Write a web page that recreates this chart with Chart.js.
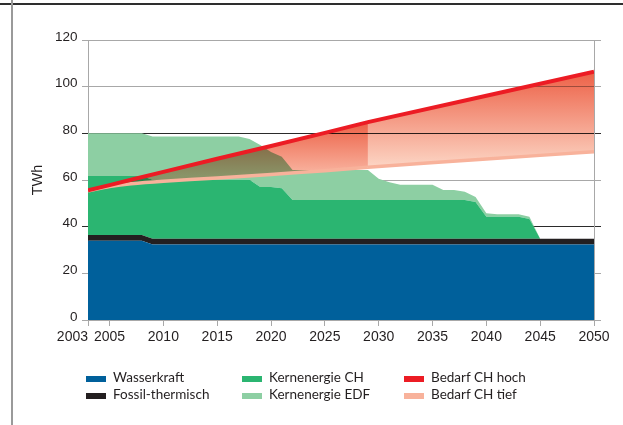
<!DOCTYPE html>
<html>
<head>
<meta charset="utf-8">
<script src="https://cdn.jsdelivr.net/npm/chart.js@4.4.0/dist/chart.umd.min.js"></script>
<style>
  html, body { margin: 0; padding: 0; background: #fff; }
  #wrap { position: relative; width: 623px; height: 425px; overflow: hidden; }
  #topRule { position: absolute; left: 0; top: 3px; width: 623px; height: 2px; background: #2e2e2e; }
  #leftRule { position: absolute; left: 11px; top: 0; width: 2px; height: 425px; background: #9a9a9a; }
  canvas { position: absolute; left: 0; top: 0; }
  .lg-text { position: absolute; font: 13.5px Lato, sans-serif; line-height: 16px; color: #231f20; white-space: nowrap; }
  .lg-box { position: absolute; width: 20px; height: 6px; }
</style>
</head>
<body>
<div id="wrap">
  <canvas id="myChart" width="623" height="425"></canvas>
  <div id="topRule"></div>
  <div id="leftRule"></div>
  <div id="legend"></div>
</div>
<script>
// Stromangebot und -nachfrage Schweiz (TWh)

const years = [2003, 2004, 2005, 2006, 2007, 2008, 2009, 2010, 2011, 2012, 2013, 2014,
    2015, 2016, 2017, 2018, 2019, 2020, 2021, 2022, 2023, 2024, 2025, 2026,
    2027, 2028, 2029, 2030, 2031, 2032, 2033, 2034, 2035, 2036, 2037, 2038,
    2039, 2040, 2041, 2042, 2043, 2044, 2045, 2046, 2047, 2048, 2049, 2050];

const wasserkraft = [34.0, 34.0, 34.0, 34.0, 34.0, 34.0, 32.4, 32.4, 32.4, 32.4, 32.4, 32.4,
    32.4, 32.4, 32.4, 32.4, 32.4, 32.4, 32.4, 32.4, 32.4, 32.4, 32.4, 32.4,
    32.4, 32.4, 32.4, 32.4, 32.4, 32.4, 32.4, 32.4, 32.4, 32.4, 32.4, 32.4,
    32.4, 32.4, 32.4, 32.4, 32.4, 32.4, 32.4, 32.4, 32.4, 32.4, 32.4, 32.4];

const fossil = [2.4, 2.4, 2.4, 2.4, 2.4, 2.4, 2.4, 2.4, 2.4, 2.4, 2.4, 2.4,
    2.4, 2.4, 2.4, 2.4, 2.4, 2.4, 2.4, 2.4, 2.4, 2.4, 2.4, 2.4,
    2.4, 2.4, 2.4, 2.4, 2.4, 2.4, 2.4, 2.4, 2.4, 2.4, 2.4, 2.4,
    2.4, 2.4, 2.4, 2.4, 2.4, 2.4, 2.4, 2.4, 2.4, 2.4, 2.4, 2.4];

const kernCH = [25.3, 25.3, 25.3, 25.3, 25.3, 25.3, 25.3, 25.3, 25.3, 25.3, 25.3, 25.3,
    25.3, 25.3, 25.3, 25.3, 22.2, 22.2, 21.7, 16.6, 16.6, 16.6, 16.6, 16.6,
    16.6, 16.6, 16.6, 16.6, 16.6, 16.6, 16.6, 16.6, 16.6, 16.6, 16.6, 16.6,
    15.8, 9.5, 9.5, 9.5, 9.5, 8.5, 0, 0, 0, 0, 0, 0];

const kernEDF = [18.3, 18.3, 18.3, 18.3, 18.3, 18.3, 18.5, 18.5, 18.5, 18.5, 18.5, 18.5,
    18.5, 18.5, 18.5, 17.5, 18.0, 15.0, 13.5, 12.9, 12.9, 12.9, 12.9, 12.9,
    12.9, 12.9, 12.9, 9.1, 7.6, 6.6, 6.6, 6.6, 6.6, 4.3, 4.3, 3.6,
    2.1, 1.4, 1.0, 1.0, 1.0, 1.0, 0, 0, 0, 0, 0, 0];

const bedarfYears = [2003, 2005, 2007, 2010, 2015, 2020, 2025, 2029, 2040, 2050];
const bedarfHoch = [55.6, 57.8, 60.1, 63.5, 69.1, 74.6, 80.2, 84.8, 96.1, 106.4];
const bedarfTief = [55.4, 57.2, 58.4, 59.5, 60.9, 62.4, 64.0, 65.5, 69.0, 72.1];

const xTicks = [2003, 2005, 2010, 2015, 2020, 2025, 2030, 2035, 2040, 2045, 2050];
const yTicks = [0, 20, 40, 60, 80, 100, 120];
const darkGridValues = [40, 80];
const szenarioWechsel = 2029;

const FONT = '"Liberation Sans", Arial, sans-serif';
const TIEF_INDEX = 5;

const toPoints = (xs, ys) => xs.map((x, i) => ({ x: x, y: ys[i] }));

const area = (label, values, color, fill) => ({
    label: label,
    data: toPoints(years, values),
    stack: 'angebot',
    order: 3,
    fill: fill,
    backgroundColor: color,
    borderColor: 'rgba(0,0,0,0)',
    borderWidth: 0,
    pointRadius: 0,
    tension: 0
});

// Verlauf im Band zwischen hoch und tief (einmal pro Layout gebaut, sonst zerfaellt die Flaeche in Stuecke)
let bandCache = null;
const bandGradient = (chart, late) => {
    const ca = chart.chartArea;
    if (!ca) return 'rgba(240,130,100,0.8)';
    const key = ca.top + '/' + ca.bottom;
    if (!bandCache || bandCache.key !== key) {
        const y = chart.scales.y;
        const early = chart.ctx.createLinearGradient(0, y.getPixelForValue(85), 0, y.getPixelForValue(62));
        early.addColorStop(0, 'rgb(236,96,70)');
        early.addColorStop(1, 'rgb(249,182,162)');
        const later = chart.ctx.createLinearGradient(0, y.getPixelForValue(106), 0, y.getPixelForValue(66));
        later.addColorStop(0, 'rgb(237,98,72)');
        later.addColorStop(1, 'rgb(252,212,195)');
        bandCache = { key: key, early: early, late: later };
    }
    return late ? bandCache.late : bandCache.early;
};

// Band wird multiplikativ über die Flächen gelegt (wie im Original)
const multiplyBand = {
    id: 'multiplyBand',
    afterDatasetDraw(chart, args) {
        const drawOrder = chart.getSortedVisibleDatasetMetas().slice().reverse();
        const pos = drawOrder.findIndex(m => m.index === args.index);
        const next = drawOrder[pos + 1];
        if (next && next.index === TIEF_INDEX) {
            chart.ctx.globalCompositeOperation = 'multiply';
        }
    },
    beforeDatasetDraw(chart, args) {
        if (args.index === TIEF_INDEX) {
            chart.ctx.globalCompositeOperation = 'source-over';
        }
    },
    afterDatasetsDraw(chart) {
        chart.ctx.globalCompositeOperation = 'source-over';
    }
};

const gridColor = (ctx) => (ctx.tick && darkGridValues.includes(ctx.tick.value)) ? '#2b2b2b' : '#a8a8a8';

const chart = new Chart(document.getElementById('myChart'), {
    type: 'line',
    data: {
        datasets: [
            area('Wasserkraft', wasserkraft, '#00609b', 'origin'),
            area('Fossil-thermisch', fossil, '#231f20', '-1'),
            area('Kernenergie CH', kernCH, '#2bb571', '-1'),
            area('Kernenergie EDF', kernEDF, '#8dcfa3', '-1'),
            {
                label: 'Bedarf CH hoch',
                data: toPoints(bedarfYears, bedarfHoch),
                stack: 'hoch',
                order: 1,
                fill: false,
                borderColor: '#ec1c24',
                backgroundColor: '#ec1c24',
                borderWidth: 4,
                pointRadius: 0,
                tension: 0
            },
            {
                label: 'Bedarf CH tief',
                data: toPoints(bedarfYears, bedarfTief),
                stack: 'tief',
                order: 2,
                fill: '-1',
                borderColor: '#f8b29b',
                backgroundColor: 'rgb(244,150,125)',
                borderWidth: 3.5,
                pointRadius: 0,
                tension: 0.2,
                segment: {
                    backgroundColor: ctx => bandGradient(ctx.chart, ctx.p0.parsed.x >= szenarioWechsel)
                }
            }
        ]
    },
    options: {
        responsive: false,
        animation: false,
        layout: { padding: { left: 25, right: 21, top: 40, bottom: 75 } },
        plugins: {
            legend: { display: false },
            tooltip: { enabled: false }
        },
        scales: {
            x: {
                type: 'linear',
                min: 2003,
                max: 2050,
                afterBuildTicks: s => { s.ticks = xTicks.map(v => ({ value: v })); },
                afterFit: s => { s.height = 30; },
                grid: { drawOnChartArea: false, tickLength: 6, color: '#a8a8a8' },
                border: { color: '#a8a8a8' },
                ticks: {
                    autoSkip: false,
                    maxRotation: 0,
                    padding: 3,
                    color: '#231f20',
                    font: { family: FONT, size: 14 },
                    // 2003 steht links neben 2005
                    callback: v => v === 2003 ? '2003        ' : String(v)
                }
            },
            y: {
                stacked: true,
                min: 0,
                max: 120,
                afterBuildTicks: s => { s.ticks = yTicks.map(v => ({ value: v })); },
                afterFit: s => { s.width = 63; },
                grid: { color: gridColor, tickLength: 6 },
                border: { color: '#a8a8a8' },
                ticks: {
                    padding: 4.5,
                    labelOffset: -3,
                    color: '#231f20',
                    font: { family: FONT, size: 13.5 }
                },
                title: {
                    display: true,
                    text: 'TWh',
                    color: '#231f20',
                    font: { family: FONT, size: 14.5 },
                    padding: { top: 4, bottom: 4 }
                }
            },
            y2: {
                position: 'right',
                min: 0,
                max: 120,
                afterBuildTicks: s => { s.ticks = yTicks.map(v => ({ value: v })); },
                afterFit: s => { s.width = 8; },
                grid: { drawOnChartArea: false, color: gridColor, tickLength: 7 },
                border: { color: '#a8a8a8' },
                ticks: { display: false }
            }
        }
    },
    plugins: [multiplyBand]
});

// Legende in drei Spalten
const legendCols = [86, 242, 404];
const legendRows = [375.5, 393];
const legendLayout = [[0, 2, 4], [1, 3, 5]];
const legend = document.getElementById('legend');
legendLayout.forEach((row, r) => {
    row.forEach((idx, c) => {
        const ds = chart.data.datasets[idx];
        const box = document.createElement('div');
        box.className = 'lg-box';
        box.style.left = legendCols[c] + 'px';
        box.style.top = legendRows[r] + 'px';
        box.style.background = ds.fill === false || idx === TIEF_INDEX ? ds.borderColor : ds.backgroundColor;
        legend.appendChild(box);
        const txt = document.createElement('div');
        txt.className = 'lg-text';
        txt.style.left = (legendCols[c] + 27) + 'px';
        txt.style.top = (legendRows[r] - 7) + 'px';
        txt.textContent = ds.label;
        legend.appendChild(txt);
    });
});
</script>
</body>
</html>
